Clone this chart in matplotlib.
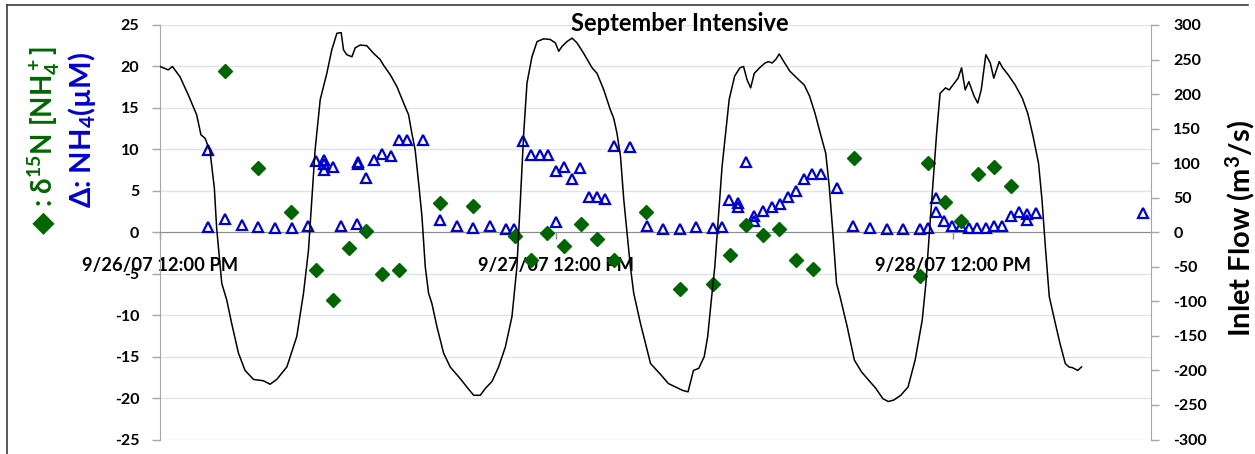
import matplotlib
matplotlib.use("Agg")
import matplotlib.pyplot as plt
from matplotlib.lines import Line2D

plt.rcParams['font.family'] = ['Lato', 'DejaVu Sans']
plt.rcParams['font.weight'] = 'bold'
plt.rcParams['mathtext.default'] = 'regular'
plt.rcParams['axes.unicode_minus'] = False

# ---- data (time in hours from 9/26/07 00:00) ----
flow_hours = [12.00, 12.50, 12.75, 13.21, 13.71, 14.22, 14.48, 14.73, 15.03, 15.29,
              15.43, 15.74, 16.04, 16.34, 16.75, 17.15, 17.66, 18.26, 18.67, 19.07,
              19.68, 20.28, 20.69, 20.99, 21.19, 21.39, 21.70, 22.10, 22.40, 22.71,
              22.97, 23.11, 23.31, 23.62, 23.82, 24.12, 24.52, 24.93, 25.33, 25.53,
              25.94, 26.34, 26.75, 27.05, 27.25, 27.45, 27.66, 27.86, 28.06, 28.26,
              28.46, 28.77, 29.17, 29.57, 30.18, 30.58, 30.99, 31.39, 31.70, 32.10,
              32.50, 32.91, 33.31, 33.61, 33.82, 34.02, 34.22, 34.52, 34.83, 35.23,
              35.63, 35.94, 36.14, 36.34, 36.64, 36.95, 37.25, 37.65, 38.16, 38.46,
              38.87, 39.27, 39.47, 39.67, 39.88, 40.08, 40.28, 40.48, 40.68, 41.09,
              41.70, 42.35, 42.78, 43.21, 43.65, 43.97, 44.30, 44.62, 44.95, 45.16,
              45.38, 45.59, 45.81, 46.03, 46.24, 46.46, 46.79, 47.11, 47.33, 47.54,
              47.76, 47.98, 48.30, 48.63, 48.84, 49.06, 49.28, 49.49, 49.82, 50.14,
              50.57, 51.01, 51.33, 51.66, 51.98, 52.31, 52.52, 52.74, 52.96, 53.17,
              53.61, 54.04, 54.47, 54.90, 55.34, 55.77, 56.09, 56.42, 56.85, 57.29,
              57.72, 58.15, 58.37, 58.58, 58.80, 59.02, 59.23, 59.56, 59.78, 60.10,
              60.32, 60.53, 60.75, 60.97, 61.29, 61.51, 61.72, 62.00, 62.27, 62.48,
              62.81, 63.02, 63.35, 63.78, 64.21, 64.54, 64.86, 65.19, 65.40, 65.62,
              65.84, 66.16, 66.49, 66.81, 67.03, 67.24, 67.57, 67.79]
inlet_flow = [240, 235, 240, 225, 199, 170, 141, 136, 117, 64,
              6, -74, -98, -132, -175, -200, -213, -215, -220, -213,
              -195, -151, -88, -26, 47, 119, 192, 230, 264, 288,
              289, 264, 257, 254, 267, 271, 270, 259, 250, 242,
              228, 211, 187, 170, 143, 119, 71, 23, -50, -88,
              -103, -137, -175, -195, -212, -224, -236, -236, -226, -216,
              -195, -166, -122, -50, 47, 143, 216, 254, 276, 280,
              279, 274, 262, 269, 276, 281, 274, 259, 238, 230,
              206, 177, 165, 143, 110, 47, -1, -50, -88, -132,
              -190, -207, -219, -224, -229, -231, -200, -197, -180, -151,
              -98, -50, 23, 95, 143, 192, 226, 238, 240, 221,
              209, 230, 238, 245, 247, 245, 250, 258, 245, 233,
              223, 213, 197, 172, 143, 114, 66, -1, -74, -93,
              -137, -185, -202, -214, -226, -241, -245, -243, -236, -224,
              -185, -127, -74, -1, 71, 143, 201, 209, 206, 216,
              223, 238, 206, 218, 197, 187, 206, 257, 245, 223,
              247, 238, 228, 213, 194, 172, 139, 100, 47, -26,
              -93, -127, -161, -190, -195, -196, -200, -195]

d15n_hours = [15.96, 17.96, 19.96, 21.47, 22.46, 23.45, 24.47, 25.47, 26.46, 28.97,
              30.97, 33.47, 34.48, 35.45, 36.46, 37.47, 38.48, 39.47, 41.45, 43.49,
              45.49, 46.50, 47.47, 48.49, 49.49, 50.49, 51.51, 54.02, 58.00, 58.50,
              59.53, 60.52, 61.51, 62.50, 63.51]
d15n_nh4 = [19.4, 7.8, 2.45, -4.6, -8.2, -1.9, 0.1, -5.0, -4.5, 3.5,
            3.2, -0.5, -3.3, -0.1, -1.7, 1.0, -0.8, -3.3, 2.4, -6.9,
            -6.2, -2.7, 0.9, -0.3, 0.45, -3.4, -4.4, 8.9, -5.3, 8.3,
            3.7, 1.4, 7.0, 7.9, 5.6]

nh4_hours = [14.93, 14.93, 15.94, 16.97, 17.96, 18.97, 19.98, 20.95, 21.43, 21.94,
             21.94, 21.94, 22.47, 22.97, 23.95, 23.98, 23.98, 24.46, 24.97, 25.47,
             25.98, 26.46, 26.98, 27.95, 28.97, 29.98, 30.97, 31.96, 32.97, 33.45,
             34.00, 34.48, 34.99, 35.49, 35.98, 35.98, 36.48, 36.95, 37.45, 37.95,
             38.46, 38.97, 39.47, 40.48, 41.49, 42.46, 43.47, 44.47, 45.49, 46.03,
             46.48, 46.98, 46.98, 47.48, 47.99, 47.99, 48.52, 49.03, 49.51, 50.01,
             50.50, 50.98, 51.49, 51.99, 52.98, 53.98, 55.01, 56.01, 57.01, 58.00,
             58.50, 59.00, 59.00, 59.47, 59.98, 60.48, 60.98, 61.49, 61.99, 62.50,
             63.00, 63.51, 63.98, 64.48, 64.48, 65.02, 71.53]
nh4_um = [9.95, 0.6, 1.6, 0.9, 0.65, 0.55, 0.55, 0.7, 8.65, 8.7,
          8.2, 7.5, 7.9, 0.8, 1.0, 8.5, 8.2, 6.6, 8.7, 9.4,
          9.2, 11.1, 11.1, 11.15, 1.5, 0.7, 0.5, 0.8, 0.4, 0.4,
          11.0, 9.3, 9.3, 9.3, 7.4, 1.2, 7.9, 6.4, 7.8, 4.3,
          4.2, 4.0, 10.45, 10.3, 0.75, 0.36, 0.4, 0.6, 0.5, 0.6,
          3.9, 3.5, 3.1, 8.5, 2.0, 1.3, 2.6, 3.0, 3.4, 4.2,
          5.0, 6.4, 7.0, 7.0, 5.3, 0.8, 0.5, 0.4, 0.36, 0.4,
          0.5, 4.1, 2.4, 1.3, 0.7, 0.7, 0.56, 0.56, 0.56, 0.7,
          0.7, 1.9, 2.5, 2.2, 1.5, 2.3, 2.3]

date_ticks = [12, 36, 60]
date_labels = ['9/26/07 12:00 PM', '9/27/07 12:00 PM', '9/28/07 12:00 PM']
left_ticks = list(range(-25, 26, 5))
right_ticks = list(range(-300, 301, 50))

# ---- figure ----
W, H = 1255, 454
fig = plt.figure(figsize=(W / 100, H / 100), dpi=100)
ax = fig.add_axes([160 / W, 1 - 439.5 / H, (1151 - 160) / W, (439.5 - 25) / H])
ax2 = ax.twinx()

axis_grey = '#A6A6A6'
zero_grey = '#8C8C8C'
green = '#006600'
blue = '#0000CC'

ax.set_xlim(12, 72)
ax.set_ylim(-25, 25)
ax2.set_ylim(-300, 300)

ax.set_yticks(left_ticks)
ax2.set_yticks(right_ticks)
ax.set_xticks(date_ticks)
ax.set_xticklabels(date_labels)

ax.yaxis.grid(True, color='#DCE4EF', lw=1.0)
ax.set_axisbelow(True)

for s in ['top', 'right']:
    ax.spines[s].set_visible(False)
ax.spines['left'].set_color(axis_grey)
ax.spines['bottom'].set_position(('data', 0))
ax.spines['bottom'].set_color(zero_grey)
for s in ['top', 'left', 'bottom']:
    ax2.spines[s].set_visible(False)
ax2.spines['right'].set_color(axis_grey)

ax.tick_params(axis='y', direction='out', length=6, width=1, color=axis_grey,
               pad=9, labelsize=11.5)
ax2.tick_params(axis='y', direction='out', length=6, width=1, color=axis_grey,
                pad=10, labelsize=11.5)
ax.tick_params(axis='x', direction='out', length=5, width=1, color=zero_grey,
               pad=13, labelsize=13.2)
for lbl in ax.get_yticklabels() + ax2.get_yticklabels() + ax.get_xticklabels():
    lbl.set_fontweight('bold')

# NH4 concentration (open triangles) and d15N (diamonds)
ax.plot(nh4_hours, nh4_um, linestyle='none', marker='^', ms=7, mfc='none',
        mec=blue, mew=1.6, zorder=3, clip_on=False)
ax.plot(d15n_hours, d15n_nh4, linestyle='none', marker='D', ms=7.5,
        color='#006400', mec='#006400', zorder=4, clip_on=False)

# Inlet flow on the secondary axis
ax2.plot(flow_hours, inlet_flow, color='black', lw=1.1, zorder=5)

# ---- text ----
fig.text(680 / W, 1 - 31 / H, 'September Intensive', ha='center', va='baseline',
         fontsize=17, fontweight='bold')

# left axis titles (two stacked, rotated)
fig.text(44 / W, 1 - 223 / H, '\u25c6', rotation=90, ha='center', va='center',
         fontsize=21, color=green, family='DejaVu Sans')
fig.text(44 / W, 1 - 207 / H, ': \u03b4$^{15}$N [NH$_4^+$]', rotation=90,
         ha='center', va='bottom', fontsize=20, fontweight='bold', color=green)
fig.text(82 / W, 1 - 130 / H, '\u0394: NH$_4$(\u00b5M)', rotation=90,
         ha='center', va='center', fontsize=21, fontweight='bold', color=blue)
fig.text(1240 / W, 1 - 228 / H, 'Inlet Flow (m$^3$/s)', rotation=90,
         ha='center', va='center', fontsize=21, fontweight='bold', color='black')

# chart frame
fig.add_artist(Line2D([7 / W, 1248 / W], [1 - 5 / H, 1 - 5 / H], color='#3C3C3C',
                      lw=1.2, transform=fig.transFigure))
fig.add_artist(Line2D([7 / W, 7 / W], [1 - 5 / H, 0], color='#3C3C3C',
                      lw=1.2, transform=fig.transFigure))

fig.savefig('out.png', dpi=100)
